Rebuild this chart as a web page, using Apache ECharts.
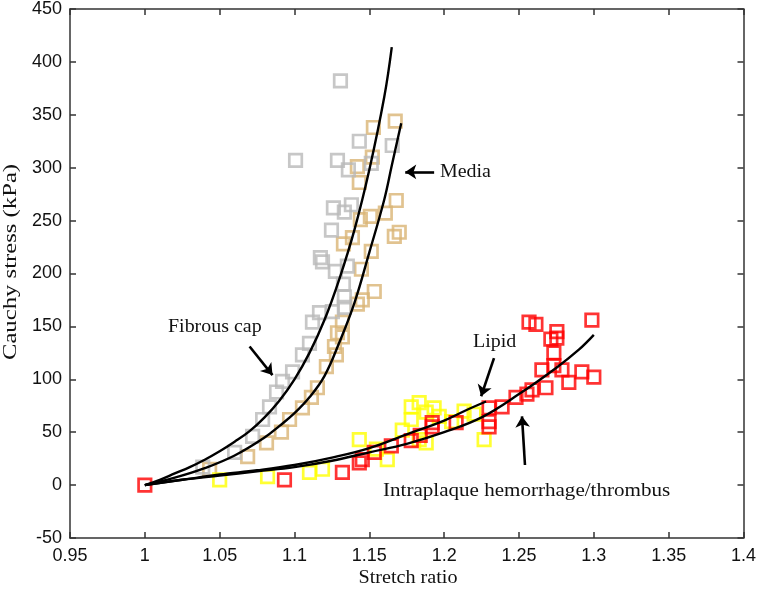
<!DOCTYPE html>
<html>
<head>
<meta charset="utf-8">
<script src="https://cdn.jsdelivr.net/npm/echarts@6/dist/echarts.min.js"></script>
<style>
html,body{margin:0;padding:0;background:#fff;}
#chart{width:759px;height:590px;}
</style>
</head>
<body>
<div id="chart"></div>
<script>
// ---- data ----
const xTicks = [0.95, 1, 1.05, 1.1, 1.15, 1.2, 1.25, 1.3, 1.35, 1.4];
const yTicks = [-50, 0, 50, 100, 150, 200, 250, 300, 350, 400, 450];

const fibrousX = [1.0, 1.01, 1.02, 1.03, 1.04, 1.05, 1.06, 1.07, 1.08, 1.09, 1.10, 1.11, 1.12, 1.13, 1.14, 1.15, 1.16, 1.165];
const fibrousY = [0, 5, 11, 17, 24, 32, 41, 51, 64, 80, 100, 125, 156, 195, 241, 298, 367, 414];

const mediaX = [1.0, 1.02, 1.04, 1.06, 1.08, 1.09, 1.10, 1.11, 1.12, 1.13, 1.14, 1.15, 1.16, 1.165, 1.1713];
const mediaY = [0, 7, 16, 28, 45, 56, 68, 83, 103, 135, 172, 220, 270, 302, 342];

const lipidX = [1.0, 1.025, 1.05, 1.075, 1.1, 1.125, 1.15, 1.175, 1.2, 1.215, 1.228];
const lipidY = [0, 5, 10, 14, 19, 26, 35, 48, 61, 71, 79];

const iphX = [1.0, 1.025, 1.05, 1.075, 1.1, 1.125, 1.15, 1.175, 1.2, 1.225, 1.25, 1.275, 1.29, 1.3];
const iphY = [0, 5, 9, 13, 17, 23, 31, 39, 50, 64, 86, 111, 128, 142];

const grayX = [1.1307, 1.1433, 1.1653, 1.1007, 1.1287, 1.136, 1.1513, 1.126, 1.1333, 1.138, 1.1247, 1.1173, 1.1187, 1.1273, 1.1353, 1.1327, 1.1333, 1.1167, 1.1253, 1.1333, 1.112, 1.11, 1.1053, 1.0987, 1.092, 1.088, 1.0833, 1.0787, 1.072, 1.06, 1.0387];
const grayY = [382, 325, 321, 307, 307, 298, 304, 262, 258, 265, 241, 215, 211, 202, 207, 190, 178, 163, 164, 168, 154, 134, 123, 107, 98, 88, 74, 62, 46, 31, 17];

const tanX = [1.1527, 1.1673, 1.152, 1.142, 1.1433, 1.168, 1.1507, 1.1607, 1.144, 1.17, 1.1667, 1.1387, 1.1327, 1.1513, 1.1447, 1.1533, 1.1453, 1.142, 1.132, 1.1287, 1.132, 1.1267, 1.128, 1.1213, 1.1153, 1.1113, 1.1053, 1.0967, 1.0913, 1.0813, 1.0687, 1.0433];
const tanY = [338, 344, 310, 301, 286, 269, 254, 257, 251, 239, 235, 234, 228, 221, 204, 183, 175, 171, 154, 144, 140, 131, 123, 112, 92, 83, 73, 62, 50, 40, 27, 15];

const yellowX = [1.05, 1.082, 1.11, 1.1187, 1.1433, 1.1547, 1.162, 1.178, 1.1833, 1.188, 1.1933, 1.178, 1.1833, 1.188, 1.1967, 1.2133, 1.22, 1.2267, 1.172, 1.205];
const yellowY = [5, 8, 12, 15, 43, 34, 24, 74, 78, 69, 73, 62, 43, 40, 65, 70, 67, 43, 52, 60];

const redX = [1.0, 1.0933, 1.132, 1.1433, 1.1453, 1.1533, 1.1647, 1.178, 1.184, 1.192, 1.192, 1.208, 1.23, 1.23, 1.23, 1.2387, 1.248, 1.2553, 1.2587, 1.268, 1.2567, 1.2613, 1.2713, 1.2753, 1.2753, 1.2733, 1.2653, 1.2733, 1.2787, 1.2833, 1.292, 1.3, 1.2987];
const redY = [0, 5, 12, 21, 24, 31, 37, 42, 47, 59, 55, 59, 73, 60, 55, 74, 83, 86, 90, 92, 154, 152, 138, 145, 139, 125, 109, 113, 109, 97, 107, 102, 156];

// annotation arrows (data coordinates): [tailX, tailY, tipX, tipY]
const arrowFibrous = [1.07, 131, 1.0853, 104];
const arrowMedia = [1.1933, 296, 1.174, 296];
const arrowLipid = [1.2333, 120, 1.2247, 84];
const arrowIph = [1.254, 19, 1.252, 65];

const labels = ['Fibrous cap', 'Media', 'Lipid', 'Intraplaque hemorrhage/thrombus'];
const xTitle = 'Stretch ratio';
const yTitle = 'Cauchy stress (kPa)';

// ---- build ----
const zip = (xs, ys) => xs.map((x, i) => [x, ys[i]]);
const serif = '"Liberation Serif", "Times New Roman", serif';
const sans = '"Liberation Sans", Arial, sans-serif';

function squares(name, xs, ys, color) {
  return {
    name, type: 'scatter', data: zip(xs, ys),
    symbol: 'rect', symbolSize: 12.5,
    itemStyle: { color: 'rgba(0,0,0,0)', borderColor: color, borderWidth: 2.7 },
    emphasis: { disabled: true }, silent: true, z: 2
  };
}
function curve(name, xs, ys, extra) {
  return Object.assign({
    name, type: 'line', data: zip(xs, ys), smooth: 0.4,
    showSymbol: false, symbol: 'none',
    lineStyle: { color: '#000', width: 2.4 },
    emphasis: { disabled: true }, silent: true, z: 5
  }, extra || {});
}
const arrowPair = a => [{ coord: [a[0], a[1]] }, { coord: [a[2], a[3]] }];

const axisCommon = {
  type: 'value',
  axisLine: { show: true, onZero: false, lineStyle: { color: '#333', width: 1.5 } },
  axisTick: { show: true, inside: true, length: 6, lineStyle: { color: '#333', width: 1.5 } },
  splitLine: { show: false }
};

const chart = echarts.init(document.getElementById('chart'), null, { renderer: 'canvas' });
chart.setOption({
  animation: false,
  backgroundColor: '#fff',
  grid: { left: 70, right: 14, top: 8, bottom: 52, containLabel: false },
  xAxis: [
    Object.assign({}, axisCommon, {
      min: xTicks[0], max: xTicks[xTicks.length - 1], interval: 0.05,
      position: 'bottom',
      axisLabel: { show: true, margin: 9, fontFamily: sans, fontSize: 18, color: '#111',
        formatter: v => String(parseFloat(v.toFixed(2))) }
    }),
    Object.assign({}, axisCommon, {
      min: xTicks[0], max: xTicks[xTicks.length - 1], interval: 0.05,
      position: 'top', axisLabel: { show: false }
    })
  ],
  yAxis: [
    Object.assign({}, axisCommon, {
      min: yTicks[0], max: yTicks[yTicks.length - 1], interval: 50,
      position: 'left',
      axisLabel: { show: true, margin: 8, fontFamily: sans, fontSize: 18, color: '#111' }
    }),
    Object.assign({}, axisCommon, {
      min: yTicks[0], max: yTicks[yTicks.length - 1], interval: 50,
      position: 'right', axisLabel: { show: false }
    })
  ],
  series: [
    squares('Media data', tanX, tanY, '#d9b474'),
    squares('Fibrous cap data', grayX, grayY, '#b9b9b9'),
    squares('Lipid data', yellowX, yellowY, '#ffff00'),
    squares('IPH data', redX, redY, '#ff0000'),
    curve('Fibrous cap fit', fibrousX, fibrousY, {
      markLine: {
        silent: true, symbol: ['none', 'arrow'], symbolSize: 11,
        label: { show: false }, emphasis: { disabled: true },
        lineStyle: { color: '#000', width: 2.6, type: 'solid' },
        data: [arrowPair(arrowFibrous), arrowPair(arrowMedia), arrowPair(arrowLipid), arrowPair(arrowIph)]
      }
    }),
    curve('Media fit', mediaX, mediaY),
    curve('Lipid fit', lipidX, lipidY),
    curve('IPH fit', iphX, iphY)
  ],
  graphic: [
    { type: 'text', x: 168, y: 327, style: { text: labels[0], font: '19px ' + serif, fill: '#111', verticalAlign: 'middle' }, scaleX: 1.05 },
    { type: 'text', x: 440, y: 172, style: { text: labels[1], font: '19px ' + serif, fill: '#111', verticalAlign: 'middle' }, scaleX: 1.05 },
    { type: 'text', x: 473, y: 342, style: { text: labels[2], font: '19px ' + serif, fill: '#111', verticalAlign: 'middle' }, scaleX: 1.05 },
    { type: 'text', x: 383, y: 491, style: { text: labels[3], font: '18px ' + serif, fill: '#111', verticalAlign: 'middle' }, scaleX: 1.17 },
    { type: 'text', x: 408, y: 578, style: { text: xTitle, font: '18px ' + serif, fill: '#111', align: 'center', verticalAlign: 'middle' }, scaleX: 1.12 },
    { type: 'text', x: 11, y: 262, rotation: Math.PI / 2, style: { text: yTitle, font: '19px ' + serif, fill: '#111', align: 'center', verticalAlign: 'middle' }, scaleX: 1.3 }
  ]
});
</script>
</body>
</html>
